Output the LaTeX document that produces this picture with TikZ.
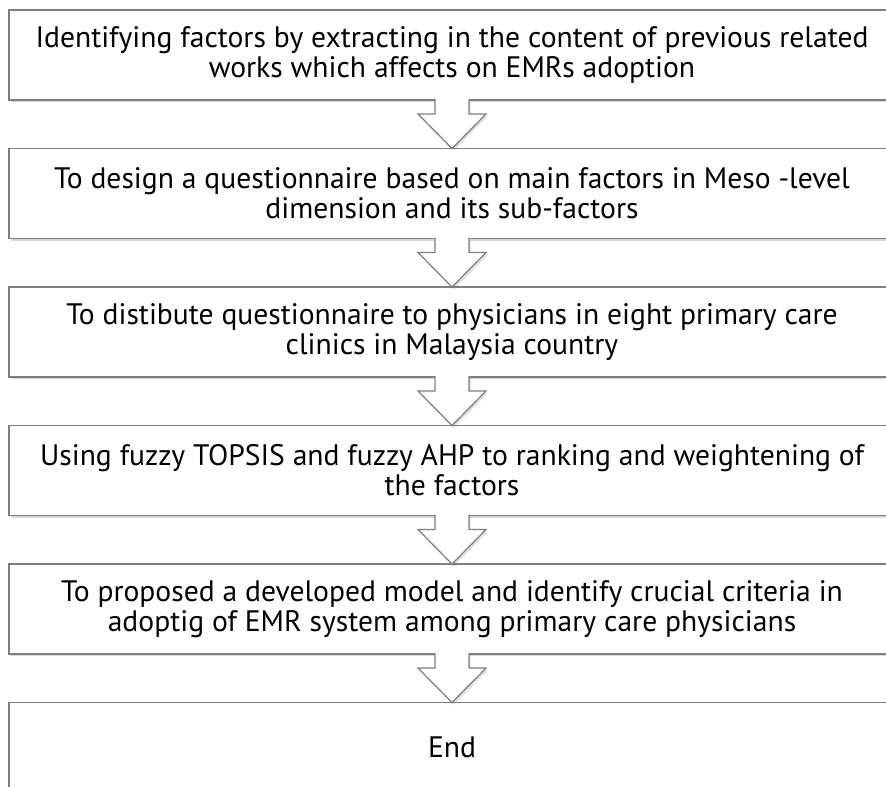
\documentclass[tikz,border=0pt]{standalone}
\usepackage{fontspec}
\setmainfont{PT Sans}
\usetikzlibrary{positioning,calc,shadows}

\begin{document}
\begin{tikzpicture}[x=0.5pt, y=-0.5pt,
    every node/.style={font=\fontsize{14.8}{15}\selectfont},
    stepbox/.style={draw=boxBorder, fill=white, line width=0.6pt, minimum width=443pt, minimum height=45pt, align=center, inner sep=0pt, outer sep=0pt,
        drop shadow={shadow xshift=0.8pt, shadow yshift=-1.2pt, opacity=0.3}},
    flowarrow/.style={draw=arrowBorder, fill=white, line width=0.6pt,
        drop shadow={shadow xshift=0.8pt, shadow yshift=-1.2pt, opacity=0.25}}]
    % Color Palette
    \definecolor{boxBorder}{HTML}{7F7F7F}
    \definecolor{arrowBorder}{HTML}{7F7F7F}

    \useasboundingbox (0,0) rectangle (886,786);
    \clip (0,0) rectangle (886,786);

    % --- Steps ---
    \node[stepbox, anchor=north west] (s1) at (9,10) {Identifying factors by extracting in the content of previous related\\works which affects on EMRs adoption};
    \node[stepbox, below=24.25pt of s1] (s2) {To design a questionnaire based on main factors in Meso -level\\dimension and its sub-factors};
    \node[stepbox, below=24.25pt of s2] (s3) {To distibute questionnaire to physicians in eight primary care\\clinics in Malaysia country};
    \node[stepbox, below=24.25pt of s3] (s4) {Using fuzzy TOPSIS and fuzzy AHP to ranking and weightening of\\the factors};
    \node[stepbox, below=24.25pt of s4] (s5) {To proposed a developed model and identify crucial criteria in\\adoptig of EMR system among primary care physicians};
    \node[stepbox, below=24.25pt of s5] (s6) {End};

    % --- Block arrows between steps ---
    \foreach \a/\b in {s1/s2, s2/s3, s3/s4, s4/s5, s5/s6}
        \draw[flowarrow] ($(\a.south)+(-17,-1)$) -- ($(\a.south)+(-17,14)$) -- ($(\a.south)+(-34,14)$) -- (\b.north)
            -- ($(\a.south)+(34,14)$) -- ($(\a.south)+(17,14)$) -- ($(\a.south)+(17,-1)$);

\end{tikzpicture}
\end{document}
